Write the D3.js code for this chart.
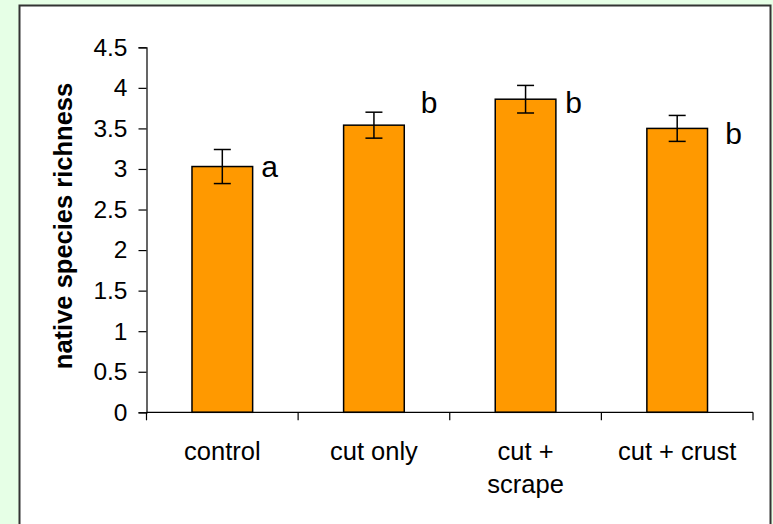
<!DOCTYPE html>
<html>
<head>
<meta charset="utf-8">
<script src="https://cdn.jsdelivr.net/npm/d3@7"></script>
<style>
  html, body { margin: 0; padding: 0; background: #e6ffe6; }
  svg { display: block; }
  text { font-family: "Liberation Sans", Arial, sans-serif; fill: #000; }
</style>
</head>
<body>
<svg id="chart" width="773" height="524"></svg>
<script>
// ---- data ----
const categories = ["control", "cut only", "cut + scrape", "cut + crust"];
const categoryLines = [["control"], ["cut only"], ["cut +", "scrape"], ["cut + crust"]];
const means = [3.03, 3.54, 3.86, 3.50];
const errors = [0.21, 0.16, 0.17, 0.16];
const letters = ["a", "b", "b", "b"];
const letterLevels = [2.905, 3.694, 3.694, 3.305];
const yTicks = [0, 0.5, 1, 1.5, 2, 2.5, 3, 3.5, 4, 4.5];
const yTickLabels = ["0", "0.5", "1", "1.5", "2", "2.5", "3", "3.5", "4", "4.5"];
const yTitle = "native species richness";

// ---- layout ----
const W = 773, H = 524;
const plot = { left: 146.5, right: 753, top: 47.3, bottom: 412.3 };
const letterDx = [39, 46.7, 39.7, 48];

const svg = d3.select("#chart");

// panel
svg.append("rect").attr("x", 0).attr("y", 0).attr("width", W).attr("height", H).attr("fill", "#e6ffe6");
svg.append("rect").attr("x", 19.5).attr("y", 5.5).attr("width", 751).attr("height", 530)
  .attr("fill", "#ffffff").attr("stroke", "#333333").attr("stroke-width", 2);

const x = d3.scaleBand().domain(categories).range([plot.left, plot.right])
  .paddingInner(0.6).paddingOuter(0.3);
const step = x.step();
const y = d3.scaleLinear().domain([0, 4.5]).range([plot.bottom, plot.top]);

// bars
const g = svg.append("g");
g.selectAll("rect.bar").data(categories).join("rect")
  .attr("class", "bar")
  .attr("x", d => x(d))
  .attr("y", (d, i) => y(means[i]))
  .attr("width", x.bandwidth())
  .attr("height", (d, i) => y(0) - y(means[i]))
  .attr("fill", "#ff9900")
  .attr("stroke", "#000")
  .attr("stroke-width", 1.5);

// error bars
const eb = g.selectAll("g.err").data(categories).join("g").attr("class", "err");
eb.append("line")
  .attr("x1", d => x(d) + x.bandwidth() / 2).attr("x2", d => x(d) + x.bandwidth() / 2)
  .attr("y1", (d, i) => y(means[i] + errors[i])).attr("y2", (d, i) => y(means[i] - errors[i]))
  .attr("stroke", "#000").attr("stroke-width", 1.5);
[1, -1].forEach(s => {
  eb.append("line")
    .attr("x1", d => x(d) + x.bandwidth() / 2 - 8.5).attr("x2", d => x(d) + x.bandwidth() / 2 + 8.5)
    .attr("y1", (d, i) => y(means[i] + s * errors[i])).attr("y2", (d, i) => y(means[i] + s * errors[i]))
    .attr("stroke", "#000").attr("stroke-width", 1.5);
});

// significance letters
g.selectAll("text.letter").data(categories).join("text")
  .attr("class", "letter")
  .attr("x", (d, i) => x(d) + x.bandwidth() / 2 + letterDx[i])
  .attr("y", (d, i) => y(letterLevels[i]))
  .attr("font-size", 30)
  .text((d, i) => letters[i]);

// y axis
const yAxis = d3.axisLeft(y).tickValues(yTicks).tickSize(8).tickPadding(11)
  .tickFormat((d, i) => yTickLabels[i]);
const ya = svg.append("g").attr("transform", `translate(${plot.left},0)`).call(yAxis);
ya.select(".domain").attr("stroke", "#000").attr("stroke-width", 1.2);
ya.selectAll(".tick line").attr("stroke", "#000").attr("stroke-width", 1.2);
ya.selectAll(".tick text").attr("font-size", 24.5).attr("font-family", "Liberation Sans, Arial, sans-serif").attr("fill", "#000");

// x axis line and boundary ticks
const xa = svg.append("g");
xa.append("line").attr("x1", plot.left).attr("x2", plot.right)
  .attr("y1", plot.bottom).attr("y2", plot.bottom).attr("stroke", "#000").attr("stroke-width", 1.2);
const bounds = categories.map(d => x(d) - (step - x.bandwidth()) / 2).concat([plot.right]);
xa.selectAll("line.xt").data(bounds).join("line").attr("class", "xt")
  .attr("x1", d => d).attr("x2", d => d)
  .attr("y1", plot.bottom).attr("y2", plot.bottom + 8)
  .attr("stroke", "#000").attr("stroke-width", 1.2);

// x labels
const xl = xa.selectAll("text.xl").data(categories).join("text").attr("class", "xl")
  .attr("text-anchor", "middle")
  .attr("font-size", 25.5);
xl.each(function (d, i) {
  const t = d3.select(this);
  categoryLines[i].forEach((line, j) => {
    t.append("tspan")
      .attr("x", x(d) + x.bandwidth() / 2)
      .attr("y", 460 + j * 33)
      .text(line);
  });
});

// y title
svg.append("text")
  .attr("transform", `translate(71.5, ${(85 + 367) / 2}) rotate(-90)`)
  .attr("text-anchor", "middle")
  .attr("font-size", 25.5)
  .attr("font-weight", "bold")
  .text(yTitle);
</script>
</body>
</html>
